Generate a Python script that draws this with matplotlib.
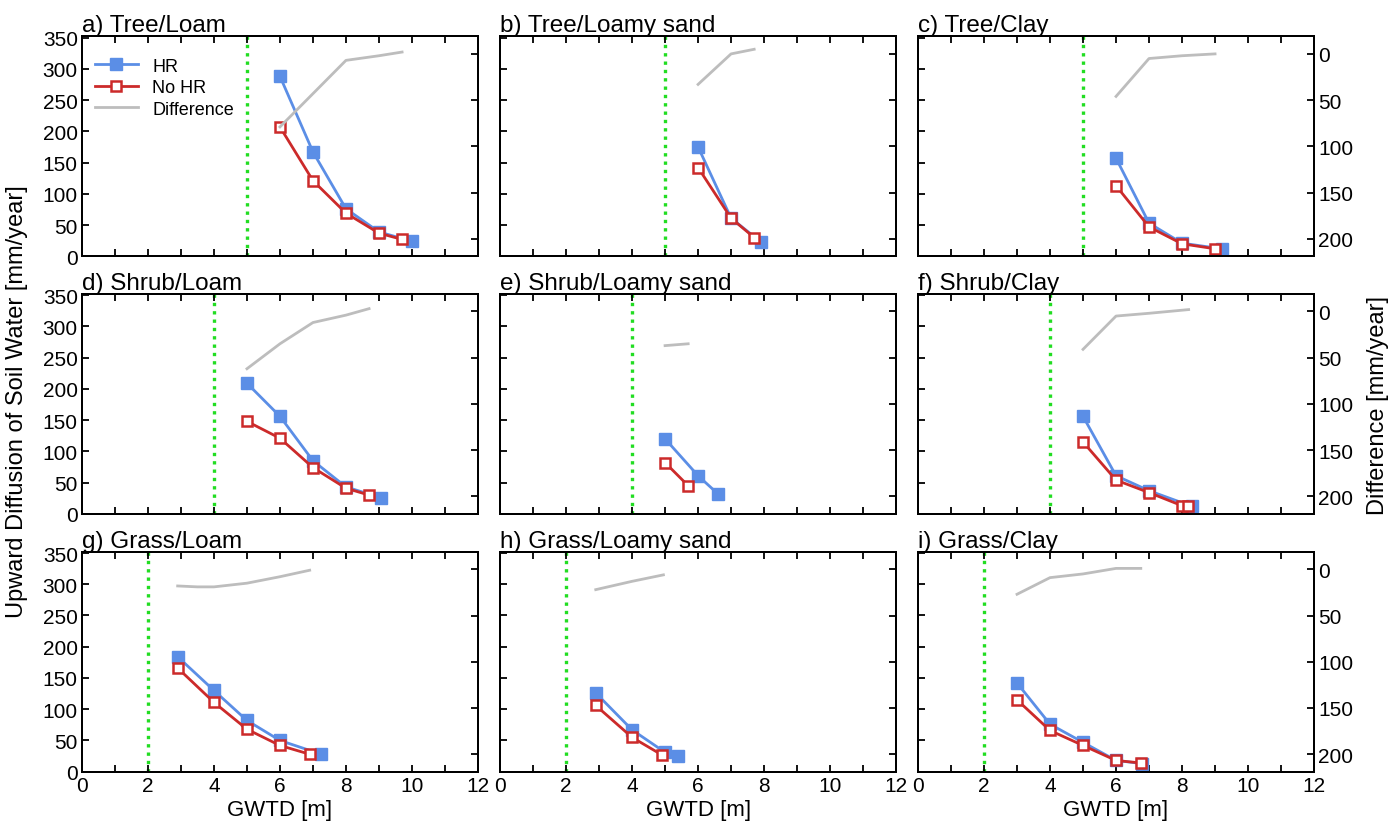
import numpy as np
import matplotlib
matplotlib.use('Agg')
import matplotlib.pyplot as plt
from matplotlib.ticker import FuncFormatter

plt.rcParams['font.family'] = ['Liberation Sans', 'DejaVu Sans']

titles = ['a) Tree/Loam', 'b) Tree/Loamy sand', 'c) Tree/Clay',
          'd) Shrub/Loam', 'e) Shrub/Loamy sand', 'f) Shrub/Clay',
          'g) Grass/Loam', 'h) Grass/Loamy sand', 'i) Grass/Clay']
root_depth = [5, 5, 5, 4, 4, 4, 2, 2, 2]

# a) Tree/Loam
hr_x_a = [6, 7, 8, 9, 10]
hr_a = [288, 167, 76, 39, 24]
no_x_a = [6, 7, 8, 9, 9.7]
no_a = [207, 121, 69, 37, 27]
diff_x_a = [6, 7, 8, 9, 9.7]
diff_a = [79, 43, 7, 2, -2]
# b) Tree/Loamy sand
hr_x_b = [6, 7, 7.9]
hr_b = [175, 61, 23]
no_x_b = [6, 7, 7.7]
no_b = [142, 61, 30]
diff_x_b = [6, 7, 7.7]
diff_b = [33, 0, -5]
# c) Tree/Clay
hr_x_c = [6, 7, 8, 9.2]
hr_c = [157, 53, 21, 12]
no_x_c = [6, 7, 8, 9]
no_c = [113, 47, 20, 12]
diff_x_c = [6, 7, 8, 9]
diff_c = [46, 5, 2, 0]
# d) Shrub/Loam
hr_x_d = [5, 6, 7, 8, 9.05]
hr_d = [209, 156, 85, 43, 26]
no_x_d = [5, 6, 7, 8, 8.7]
no_d = [148, 121, 74, 41, 30]
diff_x_d = [5, 6, 7, 8, 8.7]
diff_d = [62, 35, 12, 4, -3]
# e) Shrub/Loamy sand
hr_x_e = [5, 6, 6.6]
hr_e = [120, 61, 32]
no_x_e = [5, 5.7]
no_e = [82, 45]
diff_x_e = [5, 5.7]
diff_e = [37, 35]
# f) Shrub/Clay
hr_x_f = [5, 6, 7, 8.3]
hr_f = [156, 61, 37, 12]
no_x_f = [5, 6, 7, 8, 8.17]
no_f = [115, 54, 34, 13, 13]
diff_x_f = [5, 6, 7, 8.2]
diff_f = [41, 5, 2, -2]
# g) Grass/Loam
hr_x_g = [2.9, 4, 5, 6, 7.25]
hr_g = [184, 130, 82, 50, 28]
no_x_g = [2.9, 4, 5, 6, 6.9]
no_g = [166, 111, 68, 42, 28]
diff_x_g = [2.9, 3.5, 4, 5, 6, 6.9]
diff_g = [18, 19, 19, 15, 8, 1]
# h) Grass/Loamy sand
hr_x_h = [2.9, 4, 5, 5.4]
hr_h = [126, 67, 31, 25]
no_x_h = [2.9, 4, 4.9]
no_h = [106, 55, 27]
diff_x_h = [2.9, 4, 4.95]
diff_h = [22, 13, 6]
# i) Grass/Clay
hr_x_i = [3, 4, 5, 6, 6.8]
hr_i = [142, 76, 47, 18, 13]
no_x_i = [3, 4, 5, 6, 6.75]
no_i = [115, 66, 42, 18, 14]
diff_x_i = [3, 4, 5, 6, 6.75]
diff_i = [27, 9, 5, -1, -1]

panels = [
    (hr_x_a, hr_a, no_x_a, no_a, diff_x_a, diff_a),
    (hr_x_b, hr_b, no_x_b, no_b, diff_x_b, diff_b),
    (hr_x_c, hr_c, no_x_c, no_c, diff_x_c, diff_c),
    (hr_x_d, hr_d, no_x_d, no_d, diff_x_d, diff_d),
    (hr_x_e, hr_e, no_x_e, no_e, diff_x_e, diff_e),
    (hr_x_f, hr_f, no_x_f, no_f, diff_x_f, diff_f),
    (hr_x_g, hr_g, no_x_g, no_g, diff_x_g, diff_g),
    (hr_x_h, hr_h, no_x_h, no_h, diff_x_h, diff_h),
    (hr_x_i, hr_i, no_x_i, no_i, diff_x_i, diff_i),
]

blue = '#5b8ee6'
red = '#cc2a2a'
grey = '#bdbdbd'
green = '#22dd22'

fig = plt.figure(figsize=(13.96, 8.37), dpi=100)
lefts = [0.0587, 0.3582, 0.6576]
bottoms = [0.6926, 0.3849, 0.0768]
w, h = 0.2837, 0.2628

even_only = FuncFormatter(lambda v, p: '%d' % v if int(round(v)) % 2 == 0 else '')

for k in range(9):
    row, col = divmod(k, 3)
    hx, hy, nx, ny, dx, dy = panels[k]
    ax = fig.add_axes([lefts[col], bottoms[row], w, h])
    ax2 = ax.twinx()
    ax2.plot(dx, dy, color=grey, lw=2, label='Difference')
    ax2.set_ylim(219, -19)
    ax2.set_yticks([0, 50, 100, 150, 200])
    ax.axvline(root_depth[k], color=green, lw=2.4, ls=(0, (1, 1.5)), zorder=1)
    ax.plot(hx, hy, color=blue, lw=2, marker='s', ms=8, mfc=blue, mec=blue,
            label='HR', zorder=3)
    ax.plot(nx, ny, color=red, lw=2, marker='s', ms=7.5, mfc='white', mec=red,
            mew=1.8, label='No HR', zorder=4)
    ax.set_xlim(0, 12)
    ax.set_ylim(0, 352)
    ax.set_xticks(np.arange(0, 13, 1))
    ax.xaxis.set_major_formatter(even_only)
    ax.set_yticks(np.arange(0, 351, 50))
    ax.tick_params(direction='in', length=5, width=1.3, labelsize=15,
                   top=True, right=False, pad=3)
    ax2.tick_params(direction='in', length=5, width=1.3, labelsize=15, pad=3)
    for sp in ax.spines.values():
        sp.set_linewidth(1.4)
    for sp in ax2.spines.values():
        sp.set_linewidth(1.4)
    if col != 0:
        ax.set_yticklabels([])
    if col != 2:
        ax2.set_yticklabels([])
    if row != 2:
        ax.set_xticklabels([])
    else:
        ax.set_xlabel('GWTD [m]', fontsize=16, labelpad=3)
    ax.set_title(titles[k], loc='left', fontsize=17.5, pad=3)
    if k == 0:
        h1, l1 = ax.get_legend_handles_labels()
        h2, l2 = ax2.get_legend_handles_labels()
        ax2.legend(h1 + h2, l1 + l2, loc='upper left', frameon=False,
                   fontsize=13, handlelength=2.4, borderaxespad=0.3,
                   labelspacing=0.25, handletextpad=0.8,
                   bbox_to_anchor=(0.0, 0.96))

fig.text(0.012, 0.52, 'Upward Diffusion of Soil Water [mm/year]', rotation=90,
         va='center', ha='center', fontsize=17)
fig.text(0.987, 0.516, 'Difference [mm/year]', rotation=90,
         va='center', ha='center', fontsize=17)

fig.savefig('out.png', dpi=100)
